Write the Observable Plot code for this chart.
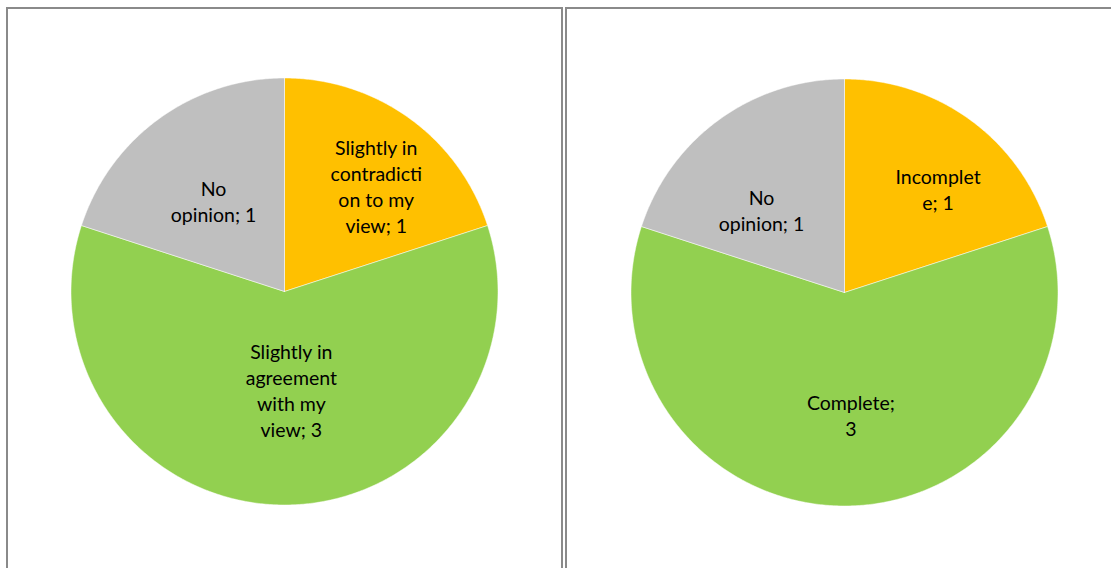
<!DOCTYPE html>
<html>
<head>
<meta charset="utf-8">
<script src="https://cdn.jsdelivr.net/npm/d3@7"></script>
<script src="https://cdn.jsdelivr.net/npm/@observablehq/plot@0.6"></script>
<style>
  html, body { margin: 0; padding: 0; background: #fff; width: 1111px; height: 568px; overflow: hidden; }
  .panel { position: absolute; top: 7px; height: 580px; border: 2px solid #8a8a8a; box-sizing: border-box; }
  .panel svg { position: absolute; left: 0; top: 0; }
</style>
</head>
<body>
<div id="p1" class="panel" style="left:6px; width:557px;"></div>
<div id="p2" class="panel" style="left:565px; width:560px;"></div>
<script>
// ---- Data ----
const categories1 = ["Slightly in contradiction to my view", "Slightly in agreement with my view", "No opinion"];
const values1 = [1, 3, 1];
const labels1 = ["Slightly in\ncontradicti\non to my\nview; 1", "Slightly in\nagreement\nwith my\nview; 3", "No\nopinion; 1"];

const categories2 = ["Incomplete", "Complete", "No opinion"];
const values2 = [1, 3, 1];
const labels2 = ["Incomplet\ne; 1", "Complete;\n3", "No\nopinion; 1"];

const colors = ["#FFC000", "#92D050", "#BFBFBF"];

// label placement (fraction of radius, angle offset in degrees) per slice
const labelPlace1 = [[0.655, 5], [0.46, -4], [0.54, -2]];
const labelPlace2 = [[0.655, 6], [0.575, -3], [0.55, -9]];

function pieChart(categories, values, labels, place, cx, cy, r, w, h) {
  const pie = d3.pie().sort(null).value(d => d)(values);
  const pts = [];
  pie.forEach((s, i) => {
    pts.push({cat: categories[i], x: 0, y: 0});
    const n = Math.max(2, Math.ceil((s.endAngle - s.startAngle) / (Math.PI / 360)));
    for (let k = 0; k <= n; k++) {
      const a = s.startAngle + (s.endAngle - s.startAngle) * k / n;
      pts.push({cat: categories[i], x: Math.sin(a), y: Math.cos(a)});
    }
    pts.push({cat: categories[i], x: 0, y: 0});
  });
  const lab = pie.map((s, i) => {
    const a = (s.startAngle + s.endAngle) / 2 + place[i][1] * Math.PI / 180;
    return {text: labels[i], x: place[i][0] * Math.sin(a), y: place[i][0] * Math.cos(a)};
  });
  return Plot.plot({
    width: w, height: h,
    margin: 0,
    x: {domain: [-1, 1], range: [cx - r, cx + r], axis: null},
    y: {domain: [-1, 1], range: [cy + r, cy - r], axis: null},
    color: {domain: categories, range: colors},
    style: {fontFamily: "Lato, 'Open Sans', sans-serif", background: "transparent"},
    marks: [
      Plot.line(pts, {x: "x", y: "y", z: "cat", fill: "cat", stroke: "white", strokeWidth: 0.5, curve: "linear"}),
      Plot.text(lab, {x: "x", y: "y", text: "text", fontSize: 19.5, lineHeight: 1.33, fill: "#000", textAnchor: "middle"})
    ]
  });
}

document.getElementById("p1").appendChild(
  pieChart(categories1, values1, labels1, labelPlace1, 276, 282, 213.5, 553, 576));
document.getElementById("p2").appendChild(
  pieChart(categories2, values2, labels2, labelPlace2, 277, 283, 213.5, 556, 576));
</script>
</body>
</html>
